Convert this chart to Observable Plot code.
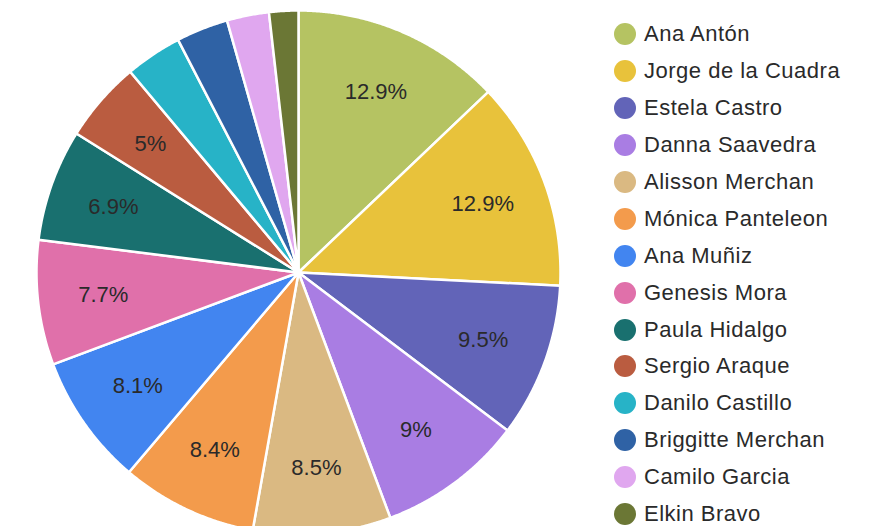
<!DOCTYPE html>
<html>
<head>
<meta charset="utf-8">
<script src="https://cdn.jsdelivr.net/npm/d3@7"></script>
<script src="https://cdn.jsdelivr.net/npm/@observablehq/plot@0.6"></script>
<style>
  html, body { margin: 0; padding: 0; background: #fff; overflow: hidden; }
  #wrap { position: relative; width: 876px; height: 526px; overflow: hidden; }
  #legend { position: absolute; left: 614px; top: 16px; font-family: "Liberation Sans", Arial, sans-serif; font-size: 22px; letter-spacing: 0.5px; color: #2a2a2a; }
  .row { display: flex; align-items: center; height: 36.9px; white-space: nowrap; }
  .sw { width: 22px; height: 22px; border-radius: 50%; margin-right: 8px; flex: none; }
</style>
</head>
<body>
<div id="wrap"><div id="legend"></div></div>
<script>
const names = ["Ana Antón", "Jorge de la Cuadra", "Estela Castro", "Danna Saavedra", "Alisson Merchan", "Mónica Panteleon", "Ana Muñiz", "Genesis Mora", "Paula Hidalgo", "Sergio Araque", "Danilo Castillo", "Briggitte Merchan", "Camilo Garcia", "Elkin Bravo"];
const values = [12.9, 12.9, 9.5, 9.0, 8.5, 8.4, 8.1, 7.7, 6.9, 5.0, 3.5, 3.2, 2.6, 1.8];
const colors = ["#b5c362", "#e8c23b", "#6264b8", "#a97de3", "#dab982", "#f39b4c", "#4285f0", "#e070aa", "#19706f", "#ba5c40", "#27b3c7", "#2f62a5", "#e0a7ef", "#6b7735"];

const total = d3.sum(values);
const arcs = d3.pie().sort(null).value(d => d)(values);

// polygon points for each slice (unit circle, angle clockwise from top)
const pts = [];
arcs.forEach((a, i) => {
  const n = Math.max(2, Math.ceil((a.endAngle - a.startAngle) / 0.005));
  pts.push({name: names[i], x: 0, y: 0});
  for (let k = 0; k <= n; k++) {
    const t = a.startAngle + (a.endAngle - a.startAngle) * k / n;
    pts.push({name: names[i], x: Math.sin(t), y: Math.cos(t)});
  }
  pts.push({name: names[i], x: 0, y: 0});
});

const labels = arcs.map((a, i) => {
  const m = (a.startAngle + a.endAngle) / 2;
  return {name: names[i], v: values[i], x: 0.75 * Math.sin(m), y: 0.75 * Math.cos(m)};
}).filter(d => d.v / total >= 0.05);

const cx = 298, cy = 272, r = 262;
const chart = Plot.plot({
  width: 876,
  height: 526,
  margin: 0,
  style: {background: "transparent", overflow: "visible"},
  x: {domain: [-1, 1], range: [cx - r, cx + r], axis: null},
  y: {domain: [-1, 1], range: [cy + r, cy - r], axis: null},
  color: {domain: names, range: colors},
  marks: [
    Plot.line(pts, {x: "x", y: "y", z: "name", fill: "name", stroke: "white", strokeWidth: 2.5, strokeLinejoin: "round", curve: "linear"}),
    Plot.text(labels, {x: "x", y: "y", text: d => `${d.v}%`, fill: "#2a2a2a", fontSize: 22, fontFamily: "Liberation Sans, Arial, sans-serif"})
  ]
});
chart.style.position = "absolute";
chart.style.left = "0";
chart.style.top = "0";
document.getElementById("wrap").prepend(chart);

const legend = d3.select("#legend");
names.forEach((n, i) => {
  const row = legend.append("div").attr("class", "row");
  row.append("span").attr("class", "sw").style("background", colors[i]);
  row.append("span").text(n);
});
</script>
</body>
</html>
